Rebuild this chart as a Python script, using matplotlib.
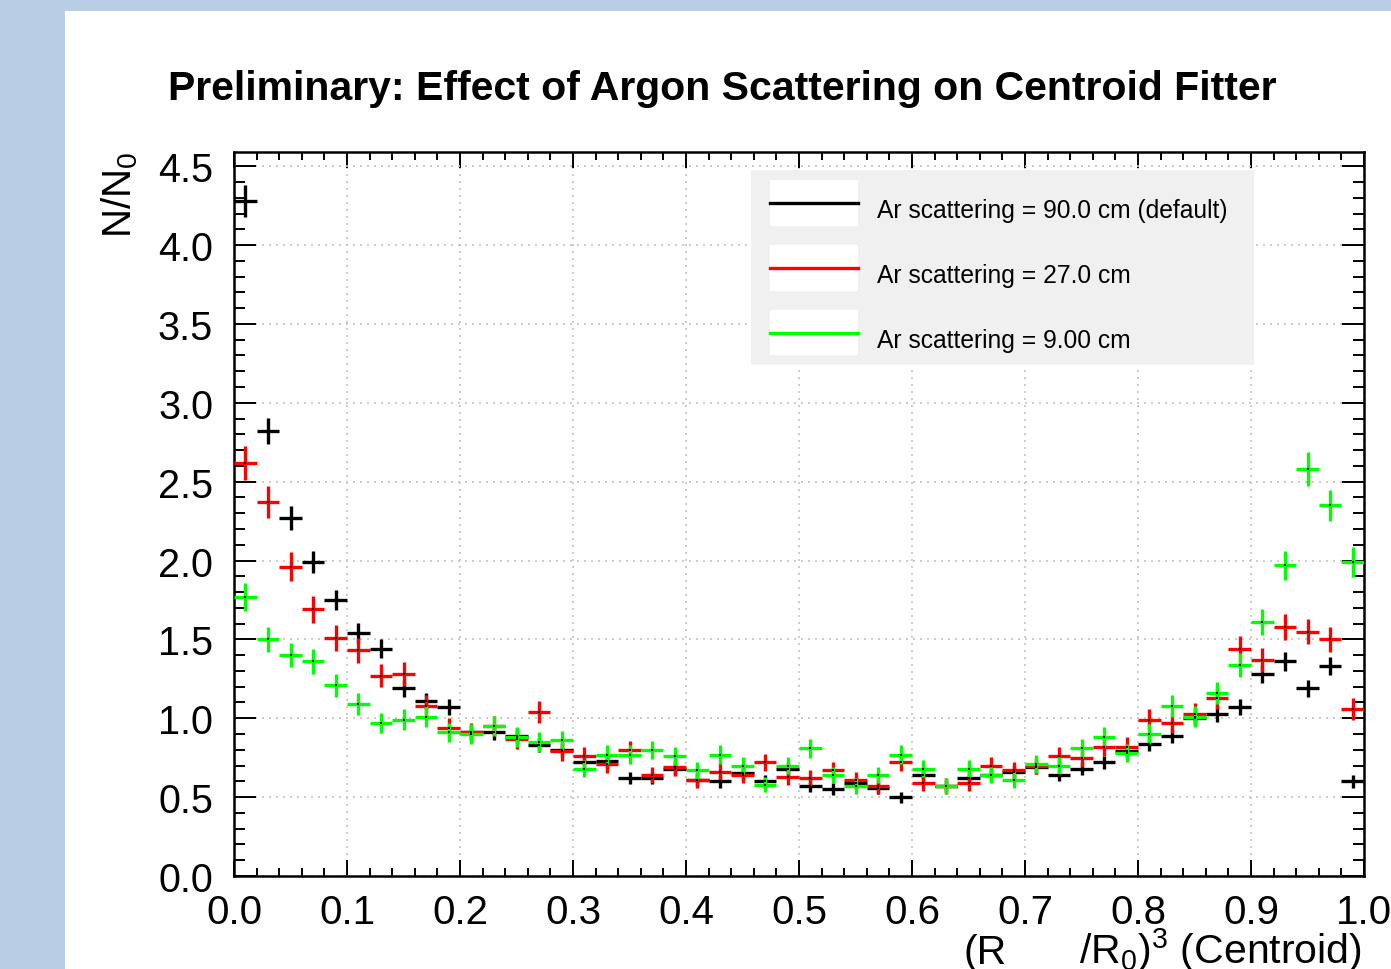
import numpy as np
import matplotlib
matplotlib.use("Agg")
import matplotlib.pyplot as plt
from matplotlib.patches import Rectangle
from matplotlib.lines import Line2D
from matplotlib.ticker import MultipleLocator, FormatStrFormatter

plt.rcParams['font.family'] = ['Liberation Sans', 'DejaVu Sans']
plt.rcParams['mathtext.fontset'] = 'custom'
plt.rcParams['mathtext.rm'] = 'Liberation Sans'
plt.rcParams['mathtext.it'] = 'Liberation Sans'

# bins en (R/R0)^3
bordes = np.arange(0, 1.0001, 0.02)
centros = 0.5 * (bordes[:-1] + bordes[1:])
media_anchura = 0.5 * np.diff(bordes)

# Ar scattering = 90.0 cm (default)
negro = [4.28, 2.82, 2.27, 1.99, 1.75, 1.54, 1.44, 1.19, 1.11, 1.07,
         0.91, 0.91, 0.89, 0.83, 0.80, 0.72, 0.73, 0.62, 0.62, 0.68,
         0.61, 0.60, 0.65, 0.60, 0.68, 0.57, 0.55, 0.59, 0.56, 0.50,
         0.64, 0.57, 0.62, 0.64, 0.66, 0.69, 0.64, 0.68, 0.72, 0.79,
         0.84, 0.89, 1.00, 1.03, 1.07, 1.28, 1.36, 1.19, 1.33, 0.60]
err_negro = [0.100, 0.084, 0.075, 0.070, 0.066, 0.062, 0.060, 0.055, 0.053, 0.052,
             0.048, 0.048, 0.047, 0.046, 0.045, 0.042, 0.043, 0.039, 0.039, 0.041,
             0.039, 0.039, 0.040, 0.039, 0.041, 0.038, 0.037, 0.038, 0.037, 0.035,
             0.040, 0.038, 0.039, 0.040, 0.041, 0.042, 0.040, 0.041, 0.042, 0.044,
             0.046, 0.047, 0.050, 0.051, 0.052, 0.057, 0.058, 0.055, 0.058, 0.039]

# Ar scattering = 27.0 cm
rojo = [2.62, 2.37, 1.96, 1.69, 1.51, 1.43, 1.27, 1.28, 1.08, 0.94,
        0.91, 0.95, 0.87, 1.04, 0.79, 0.76, 0.71, 0.80, 0.64, 0.69,
        0.61, 0.66, 0.64, 0.72, 0.63, 0.62, 0.67, 0.61, 0.57, 0.72,
        0.59, 0.57, 0.59, 0.70, 0.67, 0.70, 0.76, 0.75, 0.82, 0.82,
        0.99, 0.97, 1.03, 1.13, 1.44, 1.37, 1.58, 1.55, 1.50, 1.06]
err_rojo = [0.107, 0.100, 0.092, 0.086, 0.081, 0.079, 0.074, 0.075, 0.069, 0.064,
            0.063, 0.064, 0.062, 0.067, 0.059, 0.058, 0.056, 0.059, 0.053, 0.055,
            0.052, 0.054, 0.053, 0.056, 0.052, 0.052, 0.054, 0.052, 0.050, 0.056,
            0.051, 0.050, 0.051, 0.055, 0.054, 0.055, 0.058, 0.057, 0.060, 0.060,
            0.066, 0.065, 0.067, 0.070, 0.079, 0.077, 0.083, 0.082, 0.081, 0.068]

# Ar scattering = 9.00 cm
verde = [1.77, 1.50, 1.40, 1.36, 1.21, 1.09, 0.97, 0.99, 1.01, 0.91,
         0.90, 0.95, 0.88, 0.85, 0.86, 0.68, 0.77, 0.77, 0.80, 0.76,
         0.67, 0.77, 0.70, 0.58, 0.70, 0.81, 0.64, 0.57, 0.64, 0.77,
         0.68, 0.57, 0.68, 0.64, 0.61, 0.71, 0.70, 0.81, 0.88, 0.78,
         0.90, 1.08, 1.01, 1.16, 1.34, 1.61, 1.97, 2.58, 2.35, 1.99]
err_verde = [0.088, 0.081, 0.078, 0.077, 0.073, 0.069, 0.065, 0.066, 0.066, 0.063,
             0.063, 0.064, 0.062, 0.061, 0.061, 0.054, 0.058, 0.058, 0.059, 0.058,
             0.054, 0.058, 0.055, 0.050, 0.055, 0.059, 0.053, 0.050, 0.053, 0.058,
             0.054, 0.050, 0.054, 0.053, 0.052, 0.056, 0.055, 0.059, 0.062, 0.058,
             0.063, 0.069, 0.066, 0.071, 0.076, 0.084, 0.093, 0.106, 0.100, 0.093]

series = [(negro, err_negro, '#000000', 'Ar scattering = 90.0 cm (default)'),
          (rojo, err_rojo, '#ff0000', 'Ar scattering = 27.0 cm'),
          (verde, err_verde, '#00ff00', 'Ar scattering = 9.00 cm')]

W, H = 1391, 970
fig = plt.figure(figsize=(W / 100, H / 100), dpi=100)
fig.patch.set_facecolor('#b9cde5')
fig.add_artist(Rectangle((65 / W, 0), 1, 1 - 12 / H, transform=fig.transFigure,
                         facecolor='white', edgecolor='none', zorder=0))

ax = fig.add_axes([234 / W, 1 - 877 / H, 1130 / W, 724 / H])

for vals, errs, col, _ in series:
    ax.errorbar(centros, vals, xerr=media_anchura, yerr=errs, fmt='none',
                ecolor=col, elinewidth=2.4, capsize=0, zorder=3)
    ax.plot(centros, vals, 's', ms=1.6, color='black', mew=0, zorder=4)

ax.set_xlim(0, 1)
ax.set_ylim(0, 4.59)
ax.xaxis.set_major_locator(MultipleLocator(0.1))
ax.xaxis.set_minor_locator(MultipleLocator(0.02))
ax.yaxis.set_major_locator(MultipleLocator(0.5))
ax.yaxis.set_minor_locator(MultipleLocator(0.1))
ax.xaxis.set_major_formatter(FormatStrFormatter('%.1f'))
ax.yaxis.set_major_formatter(FormatStrFormatter('%.1f'))

ax.tick_params(which='both', direction='in', top=True, right=True, width=1.4, colors='black')
ax.tick_params(axis='x', which='major', length=11.5, labelsize=29, pad=12)
ax.tick_params(axis='x', which='minor', length=5.8)
ax.tick_params(axis='y', which='major', length=15.8, labelsize=28.5, pad=15)
ax.tick_params(axis='y', which='minor', length=7.9)
for s in ax.spines.values():
    s.set_linewidth(1.8)

ax.grid(which='major', color='#c4c4c4', linestyle=(0, (1.2, 3)), linewidth=1.2, zorder=1)

# leyenda estilo ROOT
ax.add_patch(Rectangle((0.4575, 0.7058), 0.4452, 0.2693, transform=ax.transAxes,
                       facecolor='#f0f0f0', edgecolor='none', zorder=5))
filas = [(0.8978, 0.9296, 0.9106), (0.8080, 0.8398, 0.8209), (0.7196, 0.7500, 0.7311)]
for (y0, yl, yt), (_, _, col, etiqueta) in zip(filas, series):
    alto = 0.0635 if y0 > 0.8 else 0.0622
    ax.add_patch(Rectangle((0.4743, y0), 0.0779, alto, transform=ax.transAxes,
                           facecolor='white', edgecolor='none', zorder=6))
    ax.add_line(Line2D([0.4743, 0.5522], [yl, yl], transform=ax.transAxes,
                       color=col, lw=2.4, zorder=7))
    ax.text(0.569, yt, etiqueta, transform=ax.transAxes, fontsize=17.7,
            ha='left', va='baseline', zorder=8)

fig.text(722 / W, 1 - 100 / H,
         'Preliminary: Effect of Argon Scattering on Centroid Fitter',
         fontsize=29.5, fontweight='bold', ha='center', va='baseline')
fig.text(120 / W, 1 - 152 / H, 'N/N$_0$', fontsize=29, rotation=90,
         ha='center', va='top')
# titulo del eje x: el subindice queda fuera del recorte, como en la captura
fig.text(963 / W, 1 - 964 / H, '(R', fontsize=29.5, ha='left', va='baseline')
fig.text(1362 / W, 1 - 964 / H, '/R$_0$)$^3$ (Centroid)',
         fontsize=29.5, ha='right', va='baseline')

fig.savefig('out.png', dpi=100, facecolor=fig.get_facecolor())
